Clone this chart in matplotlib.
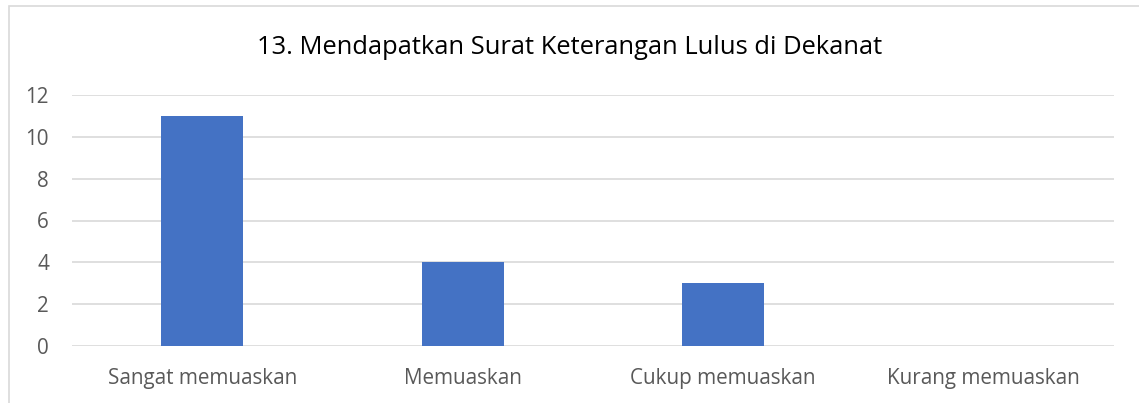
import matplotlib.pyplot as plt
import matplotlib.patches as mpatches

categories = ['Sangat memuaskan', 'Memuaskan', 'Cukup memuaskan', 'Kurang memuaskan']
values = [11, 4, 3, 0]
yticks = [0, 2, 4, 6, 8, 10, 12]
title = '13. Mendapatkan Surat Keterangan Lulus di Dekanat'

plt.rcParams['font.family'] = ['Open Sans', 'DejaVu Sans']

W, H = 1139, 403
fig = plt.figure(figsize=(W / 100, H / 100), dpi=100)

# chart border (only top and left visible in the crop)
border = mpatches.Rectangle((9 / W, -0.1), 1.2, 1 - 6 / H + 0.1, transform=fig.transFigure,
                            fill=False, edgecolor='#D9D9D9', linewidth=1.2)
fig.patches.append(border)

ax = fig.add_axes([72 / W, 1 - 346 / H, (1114 - 72) / W, (346 - 95) / H])
x = range(len(categories))
ax.bar(x, values, width=0.315, color='#4472C4', zorder=3)
ax.set_xlim(-0.5, len(categories) - 0.5)
ax.set_ylim(0, 12)
ax.set_yticks(yticks)
ax.set_xticks(list(x))
ax.set_xticklabels(categories)
ax.yaxis.grid(True, color='#D9D9D9', linewidth=1.2, zorder=0)
for s in ax.spines.values():
    s.set_visible(False)
ax.tick_params(axis='both', length=0, colors='#595959', labelsize=14.9)
ax.tick_params(axis='x', pad=16)
ax.tick_params(axis='y', pad=16.5)

fig.text(0.5, 1 - 47 / H, title, ha='center', va='center', fontsize=18.4, color='#000000')

fig.savefig('out.png', dpi=100)
